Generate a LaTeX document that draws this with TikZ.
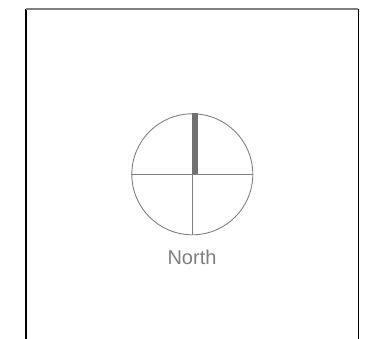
\documentclass[tikz,border=0pt]{standalone}
\usepackage{fontspec}
\setmainfont{Liberation Sans}
\usepackage{xcolor}
\usepackage{tikz}
\usetikzlibrary{calc,positioning}
\definecolor{framec}{HTML}{000000}
\definecolor{topc}{HTML}{808080}
\definecolor{dialc}{HTML}{808080}
\definecolor{needlec}{HTML}{717171}
\definecolor{labelc}{HTML}{7F7F7F}
\tikzset{
  thinl/.style={draw=dialc,line width=0.9pt},
  dialbox/.style={circle,thinl,minimum size=121pt,inner sep=0pt},
  lbl/.style={text=labelc,font=\fontsize{20}{24}\selectfont,inner sep=0pt}
}
\begin{document}
\begin{tikzpicture}[x=1pt,y=1pt]
\useasboundingbox (0,0) rectangle (382,339);
% frame
\coordinate (TL) at (26,330); \coordinate (TR) at (358.3,330);
\coordinate (BL) at (26,0); \coordinate (BR) at (358.3,0);
\draw[framec,line width=1.4pt] (TL)--(BL);
\draw[framec,line width=1.4pt] (TR)--(BR);
\draw[topc,line width=2pt] (TL)--(TR);
% dial
\node[dialbox] (dial) at (192.3,164.7) {};
\draw[thinl] (dial.west)--(dial.east);
\draw[thinl] (dial.center)--(dial.south);
\fill[needlec] (dial.center) rectangle ($(dial.north)+(5.5,0)$);
\node[lbl,anchor=base] (name) at (192,74.5) {North};
\end{tikzpicture}
\end{document}
